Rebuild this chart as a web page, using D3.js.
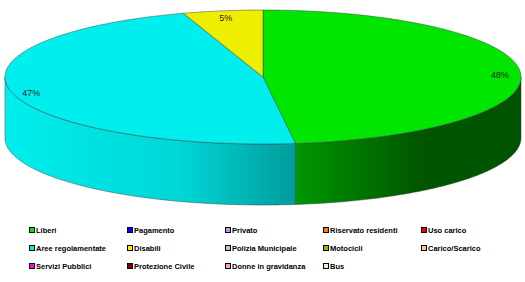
<!DOCTYPE html>
<html><head><meta charset="utf-8">
<script src="https://cdn.jsdelivr.net/npm/d3@7"></script>
<style>html,body{margin:0;padding:0;background:#fff;}svg{display:block;}</style>
</head><body>
<script>
const categories = ["Liberi","Pagamento","Privato","Riservato residenti","Uso carico",
  "Aree regolamentate","Disabili","Polizia Municipale","Motocicli","Carico/Scarico",
  "Servizi Pubblici","Protezione Civile","Donne in gravidanza","Bus"];
const values = [48,0,0,0,0, 47,5,0,0,0, 0,0,0,0];
const colors = ["#00e600","#0000ff","#c890f0","#ff7a00","#ee0000",
  "#00eeee","#eeee00","#c8c8c8","#80c000","#f0c890",
  "#ff00ff","#800000","#ff9cc8","#c8ffc8"];

const W=525,H=282;
const svg=d3.select("body").append("svg").attr("width",W).attr("height",H);
const defs=svg.append("defs");
const cx=263, cy=77, rx=258, ry=67, depth=61;

const color=d3.scaleOrdinal().domain(categories).range(colors);
const data=categories.map((c,i)=>({cat:c,val:values[i]})).filter(d=>d.val>0);
const arcs=d3.pie().sort(null).value(d=>d.val).startAngle(0).endAngle(2*Math.PI)(data);

function pt(a,off=0){return [cx+rx*Math.sin(a), cy-ry*Math.cos(a)+off];}
function samples(a0,a1){const n=Math.max(2,Math.ceil((a1-a0)/0.01));return d3.range(n+1).map(k=>a0+(a1-a0)*k/n);}
const line=d3.line();

// shading gradients for sides
const shade=[[0,1.0],[0.34,0.9],[0.56,0.66],[0.8,0.38],[1,0.36]];
arcs.forEach((a,i)=>{
  const g=defs.append("linearGradient").attr("id","g"+i).attr("gradientUnits","userSpaceOnUse")
    .attr("x1",cx-rx).attr("x2",cx+rx).attr("y1",0).attr("y2",0);
  const base=d3.rgb(color(a.data.cat));
  shade.forEach(([o,f])=>g.append("stop").attr("offset",o)
    .attr("stop-color",d3.rgb(base.r*f,base.g*f,base.b*f).toString()));
});

// sides
arcs.forEach((a,i)=>{
  const s=Math.max(a.startAngle,Math.PI/2), e=Math.min(a.endAngle,3*Math.PI/2);
  if(e<=s) return;
  const top=samples(s,e).map(t=>pt(t));
  const bot=samples(s,e).reverse().map(t=>pt(t,depth));
  svg.append("path").attr("d",line(top.concat(bot))+"Z")
    .attr("fill","url(#g"+i+")").attr("stroke","#3a3a3a").attr("stroke-width",0.6).attr("stroke-opacity",0.8);
});

// tops
arcs.forEach((a,i)=>{
  const pts=[[cx,cy]].concat(samples(a.startAngle,a.endAngle).map(t=>pt(t)));
  svg.append("path").attr("d",line(pts)+"Z")
    .attr("fill",color(a.data.cat)).attr("stroke","#3a3a3a").attr("stroke-width",0.6).attr("stroke-opacity",0.8);
});

// labels
const total=d3.sum(values);
arcs.forEach(a=>{
  const m=(a.startAngle+a.endAngle)/2;
  const x=cx+rx*0.92*Math.sin(m), y=cy-ry*0.92*Math.cos(m)+2;
  svg.append("text").attr("x",x).attr("y",y).attr("dy","0.35em").attr("text-anchor","middle")
    .attr("font-family","Liberation Sans, Arial, sans-serif").attr("font-size",9).attr("fill","#222")
    .text(Math.round(a.data.val/total*100)+"%");
});

// legend
const lx=d3.scaleLinear().domain([0,4]).range([29,421]);
const ly=d3.scaleLinear().domain([0,2]).range([230,266]);
const leg=svg.append("g");
categories.forEach((c,i)=>{
  const x=lx(i%5), y=ly(Math.floor(i/5));
  leg.append("rect").attr("x",x+0.5).attr("y",y-2.5).attr("width",5).attr("height",5)
    .attr("fill",color(c)).attr("stroke","#000").attr("stroke-width",1);
  leg.append("text").attr("x",x+7).attr("y",y).attr("dy","0.35em")
    .attr("font-family","Liberation Sans, Arial, sans-serif").attr("font-weight","bold")
    .attr("font-size",7.5).attr("fill","#000").text(c);
});
</script>
</body></html>
